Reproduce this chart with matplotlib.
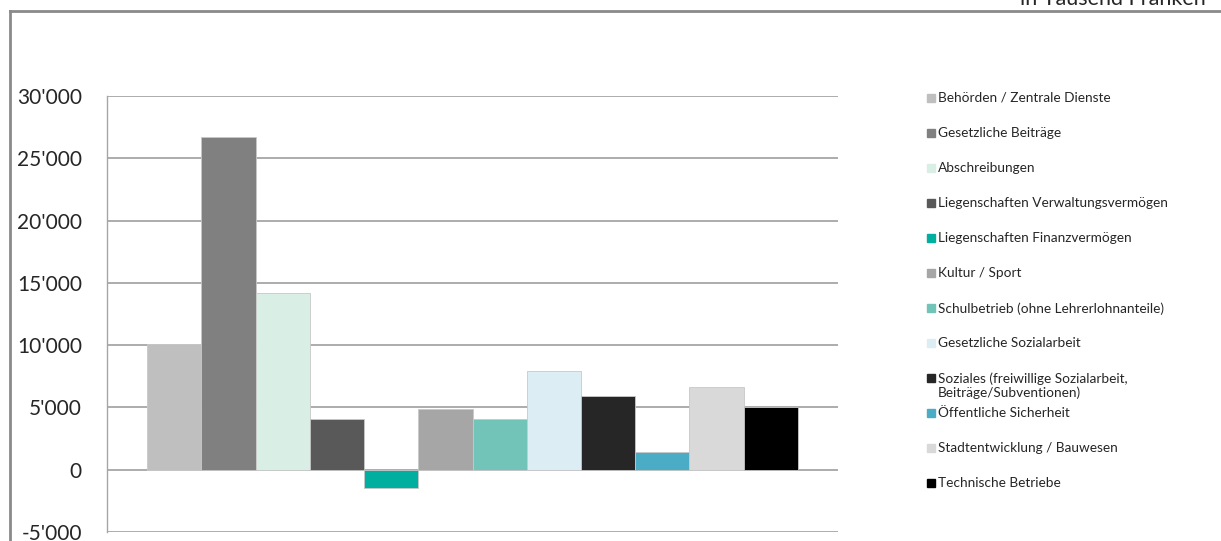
import matplotlib.pyplot as plt
from matplotlib.patches import Rectangle
from matplotlib.lines import Line2D
from matplotlib.ticker import FuncFormatter

plt.rcParams['font.family'] = ['Lato', 'DejaVu Sans']

# Daten (in Tausend Franken)
kategorien = [
    "Behörden / Zentrale Dienste",
    "Gesetzliche Beiträge",
    "Abschreibungen",
    "Liegenschaften Verwaltungsvermögen",
    "Liegenschaften Finanzvermögen",
    "Kultur / Sport",
    "Schulbetrieb (ohne Lehrerlohnanteile)",
    "Gesetzliche Sozialarbeit",
    "Soziales (freiwillige Sozialarbeit,\nBeiträge/Subventionen)",
    "Öffentliche Sicherheit",
    "Stadtentwicklung / Bauwesen",
    "Technische Betriebe",
]
werte = [10100, 26700, 14200, 4100, -1500, 4900, 4100, 7900, 5900, 1450, 6600, 5050]
farben = ["#BFBFBF", "#808080", "#D9EEE5", "#595959", "#00AFA0", "#A6A6A6",
          "#72C3B8", "#DCEEF4", "#262626", "#4BACC6", "#D9D9D9", "#000000"]
yticks = [-5000, 0, 5000, 10000, 15000, 20000, 25000, 30000]

W, H = 1221, 541
fig = plt.figure(figsize=(W / 100, H / 100), dpi=100)

# Achsenbereich in Pixeln: x 107..838, y 96..532
ax = fig.add_axes([107 / W, 1 - 532 / H, (838 - 107) / W, (532 - 96) / H])

x = list(range(len(werte)))
ax.bar(x, werte, width=1.0, color=farben, edgecolor="#C8C8C8", linewidth=0.6, zorder=3)
ax.set_xlim(-0.5 - 0.74, len(werte) - 0.5 + 0.74)
ax.set_ylim(-5000, 30000)
ax.set_yticks(yticks)
ax.yaxis.set_major_formatter(FuncFormatter(lambda v, p: f"{int(v):,}".replace(",", "'")))
ax.grid(axis="y", color="#A6A6A6", linewidth=1.3, zorder=0)
ax.set_xticks([])
for s in ["top", "right", "bottom"]:
    ax.spines[s].set_visible(False)
ax.spines["left"].set_color("#A6A6A6")
ax.spines["left"].set_linewidth(1.0)
ax.tick_params(axis="y", length=0, pad=18, labelsize=15, labelcolor="#262626")

# Legende manuell
top = 98
for i, (lab, col) in enumerate(zip(kategorien, farben)):
    yc = top + i * 35
    fig.patches.append(Rectangle((927 / W, 1 - (yc + 4) / H), 8 / W, 8 / H,
                                 transform=fig.transFigure, color=col, figure=fig))
    fig.text(938 / W, 1 - (yc - 6) / H, lab, fontsize=9.8, va="top", ha="left",
             color="#262626", linespacing=1.15)

# Rahmen
fig.add_artist(Line2D([10 / W, 1], [1 - 11 / H, 1 - 11 / H], color="#8A8A8A", linewidth=2,
                      transform=fig.transFigure))
fig.add_artist(Line2D([10 / W, 10 / W], [0, 1 - 11 / H], color="#8A8A8A", linewidth=2,
                      transform=fig.transFigure))

# Titel (oben abgeschnitten)
fig.text(1206 / W, 1 - 5 / H, "in Tausend Franken", fontsize=15.5, ha="right", va="baseline",
         color="#262626")

fig.savefig("out.png", dpi=100)
